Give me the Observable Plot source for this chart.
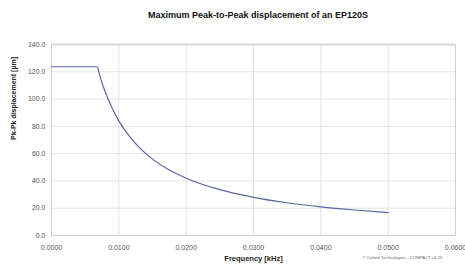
<!DOCTYPE html>
<html>
<head>
<meta charset="utf-8">
<script src="https://cdn.jsdelivr.net/npm/d3@7"></script>
<script src="https://cdn.jsdelivr.net/npm/@observablehq/plot@0.6"></script>
<style>
  body { margin: 0; background: #fff; font-family: "Liberation Sans", Arial, sans-serif; }
  #wrap { width: 465px; height: 266px; position: relative; overflow: hidden; }
  #title { height: 28px; box-sizing: border-box; padding-top: 9px; padding-left: 51px; width: 465px; text-align: center; font-weight: bold; font-size: 9px; color: #111; line-height: 12px; }
</style>
</head>
<body>
<div id="wrap">
  <div id="title">Maximum Peak-to-Peak displacement of an EP120S</div>
  <div id="chart"></div>
</div>
<script>
const freq = [0.0, 0.0068, 0.0071, 0.0075, 0.0080, 0.0085, 0.0090, 0.0100, 0.0110, 0.0125, 0.0150, 0.0175, 0.0200, 0.0250, 0.0300, 0.0350, 0.0400, 0.0450, 0.0500];
const disp = [123.7, 123.7, 118.5, 112.0, 105.0, 99.0, 93.5, 84.0, 76.5, 67.3, 56.0, 48.0, 42.0, 33.6, 28.0, 24.0, 21.0, 18.7, 16.8];
const xTicks = [0, 0.01, 0.02, 0.03, 0.04, 0.05, 0.06];
const yTicks = [0, 20, 40, 60, 80, 100, 120, 140];
const xLabel = "Frequency [kHz]";
const yLabel = "Pk-Pk displacement [µm]";
const credit = "© Oxford Technologies - COMPACT v4.22";

const data = freq.map((f, i) => ({f, d: disp[i]}));

const chart = Plot.plot({
  width: 465,
  height: 238,
  marginTop: 16,
  marginBottom: 31,
  marginLeft: 51,
  marginRight: 10,
  style: {fontFamily: "Liberation Sans, Arial, sans-serif", fontSize: "7px", color: "#444", background: "#fff"},
  x: {domain: [0, 0.06]},
  y: {domain: [0, 140]},
  marks: [
    Plot.gridX(xTicks.slice(1, -1), {stroke: "#e4e4e4", strokeOpacity: 1}),
    Plot.gridY(yTicks.slice(1, -1), {stroke: "#e4e4e4", strokeOpacity: 1}),
    Plot.frame({stroke: "#d0d0d0"}),
    Plot.ruleY([140], {stroke: "#d8d8d8", strokeWidth: 2}),
    Plot.axisX(xTicks, {tickSize: 0, tickPadding: 10, tickFormat: d3.format(".4f"), label: null, fill: "#555"}),
    Plot.axisY(yTicks, {tickSize: 0, tickPadding: 6, tickFormat: d3.format(".1f"), label: null, fill: "#555"}),
    Plot.text([xLabel], {frameAnchor: "bottom", dy: 25, text: d => d, fontWeight: "bold", fontSize: 7.5, fill: "#222"}),
    Plot.text([yLabel], {frameAnchor: "left", dx: -38, rotate: -90, text: d => d, fontWeight: "bold", fontSize: 7, fill: "#222"}),
    Plot.text([credit], {frameAnchor: "bottom-right", dx: -13, dy: 23, text: d => d, fontSize: 4.3, fill: "#666", textAnchor: "end"}),
    Plot.line(data, {x: "f", y: "d", stroke: "#5b66a6", strokeWidth: 1.2, curve: "monotone-x"})
  ]
});
document.getElementById("chart").appendChild(chart);
</script>
</body>
</html>
